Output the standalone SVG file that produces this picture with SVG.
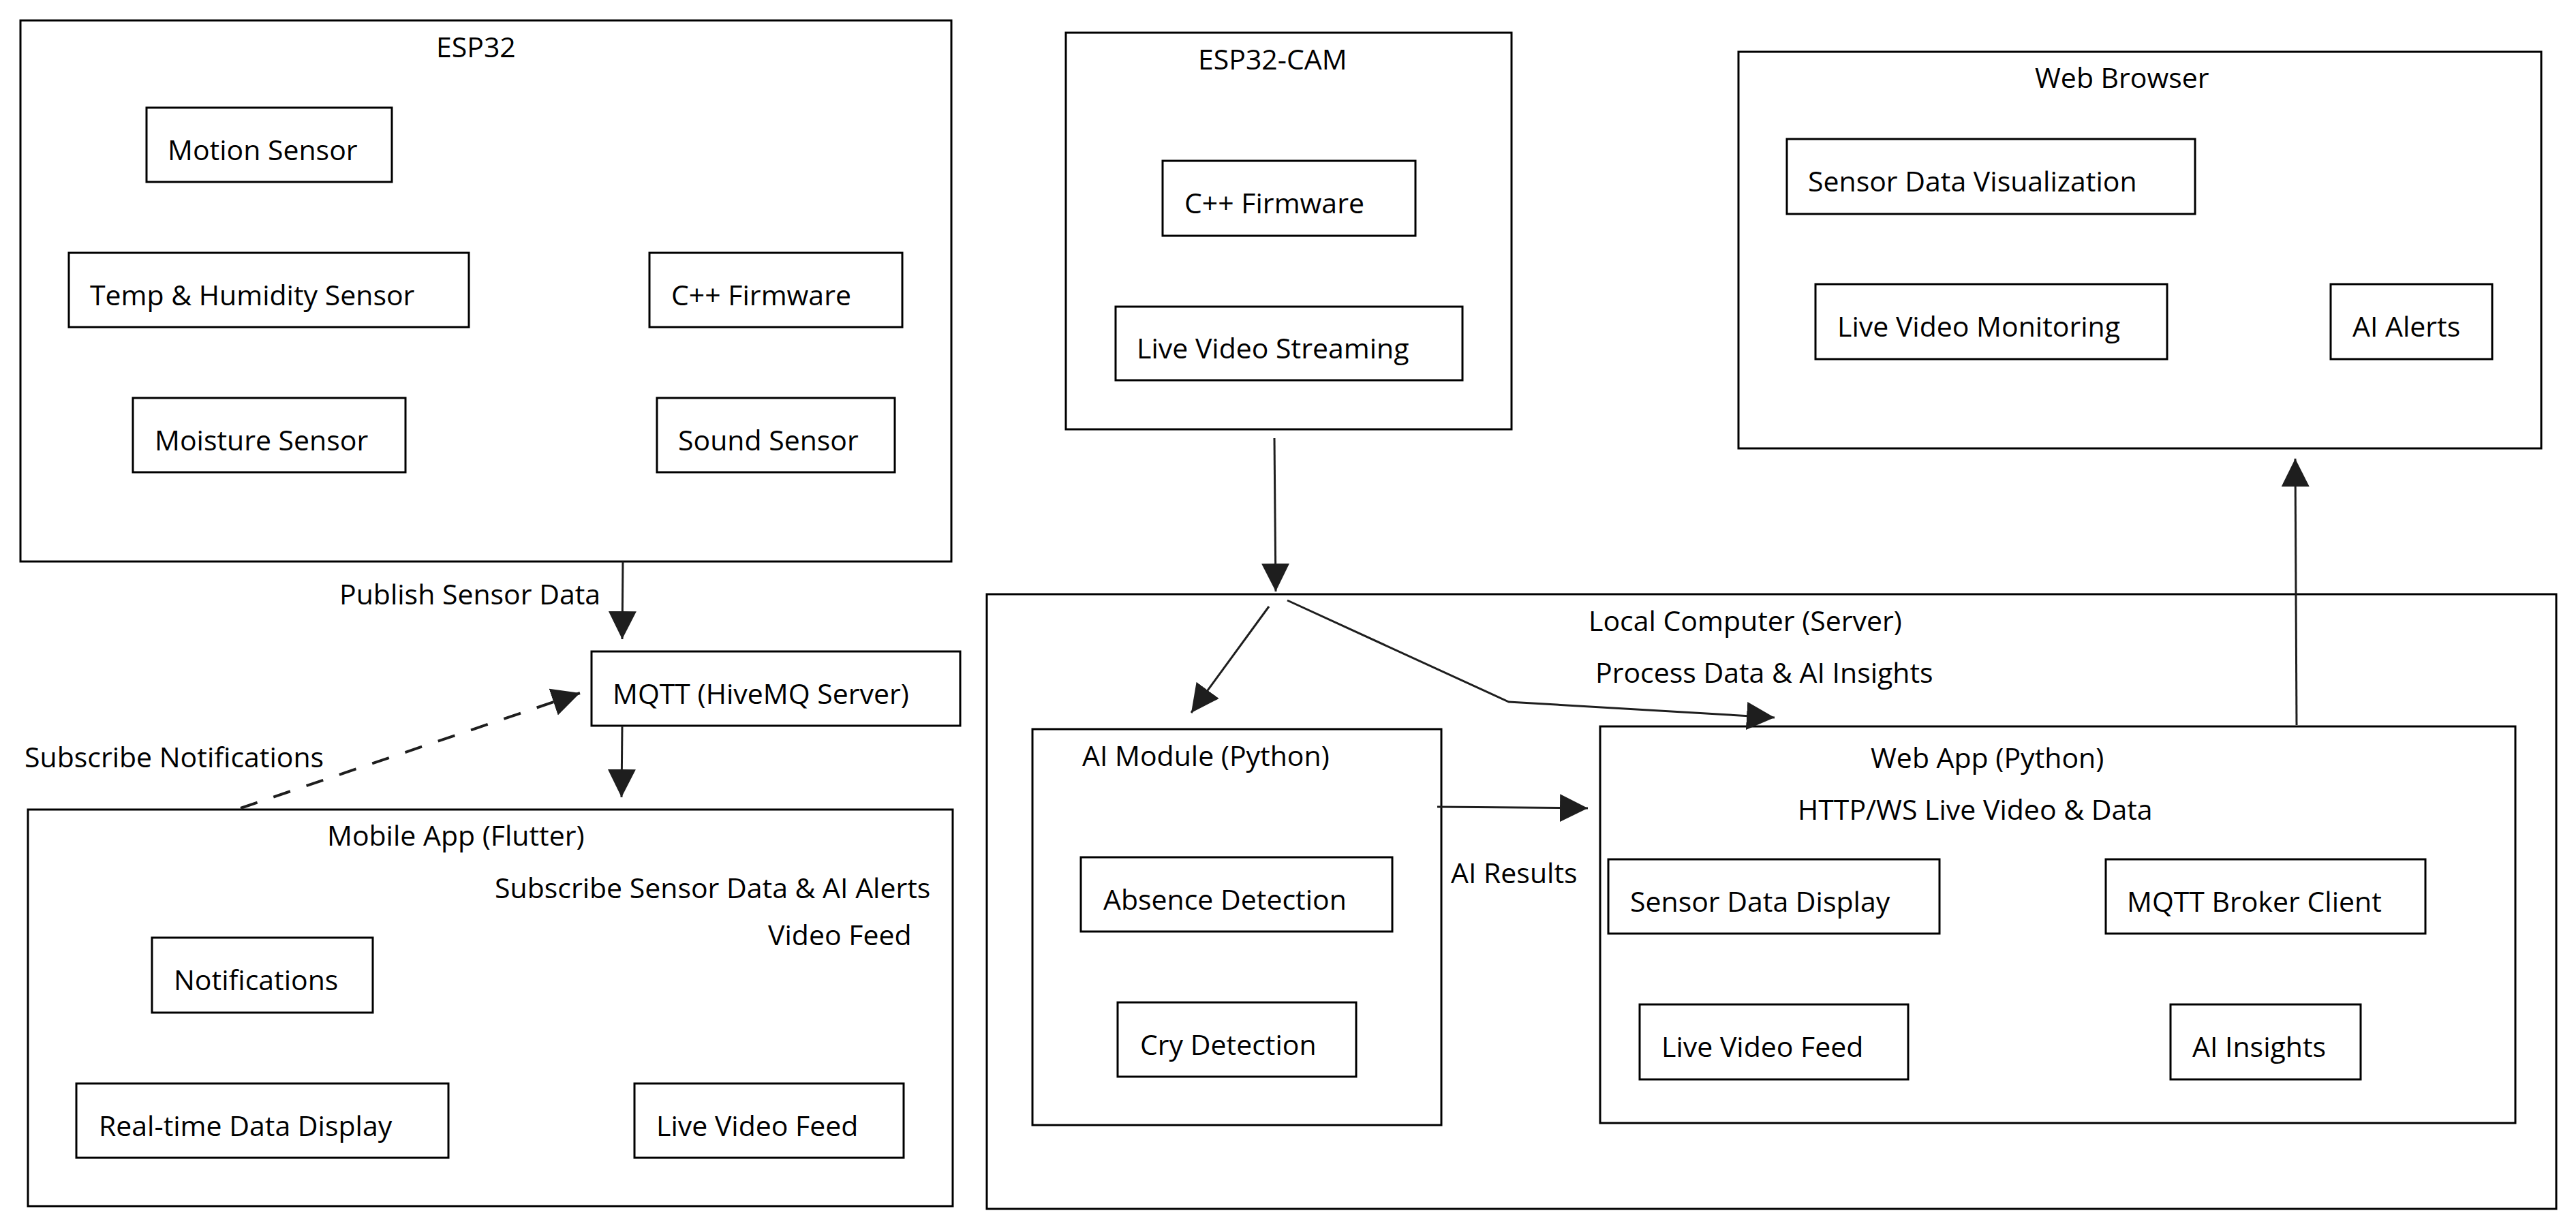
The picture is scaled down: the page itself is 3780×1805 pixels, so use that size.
<svg xmlns="http://www.w3.org/2000/svg" width="3780" height="1805" viewBox="0 0 3780 1805">
<style>
.box{fill:none;stroke:#000;stroke-width:3}
.t{font-family:"Open Sans","Noto Sans","Liberation Sans",sans-serif;font-size:41px;fill:#000}
.c{fill:none;stroke:#1e1e1e;stroke-width:3}
.d{fill:none;stroke:#1e1e1e;stroke-width:4;stroke-dasharray:26 25}
</style>
<defs>
<marker id="ah" markerUnits="userSpaceOnUse" markerWidth="42" markerHeight="42" refX="41" refY="20.5" orient="auto">
<path d="M0,0 L41,20.5 L0,41 z" fill="#1e1e1e"/>
</marker>
</defs>
<rect width="3780" height="1805" fill="#fff"/>

<g id="esp32">
<rect class="box" x="30" y="30" width="1366" height="794"/>
<text class="t" x="640" y="84">ESP32</text>
</g>
<g id="motion-sensor"><rect class="box" x="215" y="158" width="360" height="109"/><text class="t" x="246" y="235">Motion Sensor</text></g>
<g id="temp-humidity"><rect class="box" x="101" y="371" width="587" height="109"/><text class="t" x="132" y="448">Temp &amp; Humidity Sensor</text></g>
<g id="esp32-firmware"><rect class="box" x="953" y="371" width="371" height="109"/><text class="t" x="985" y="448">C++ Firmware</text></g>
<g id="moisture-sensor"><rect class="box" x="195" y="584" width="400" height="109"/><text class="t" x="227" y="661">Moisture Sensor</text></g>
<g id="sound-sensor"><rect class="box" x="964" y="584" width="349" height="109"/><text class="t" x="995" y="661">Sound Sensor</text></g>

<g id="esp32-cam">
<rect class="box" x="1564" y="48" width="654" height="582"/>
<text class="t" x="1758" y="102">ESP32-CAM</text>
</g>
<g id="cam-firmware"><rect class="box" x="1706" y="236" width="371" height="110"/><text class="t" x="1738" y="313">C++ Firmware</text></g>
<g id="live-video-streaming"><rect class="box" x="1637" y="450" width="509" height="108"/><text class="t" x="1668" y="526">Live Video Streaming</text></g>

<g id="web-browser">
<rect class="box" x="2551" y="76" width="1178" height="582"/>
<text class="t" x="2986" y="129">Web Browser</text>
</g>
<g id="sensor-data-visualization"><rect class="box" x="2622" y="204" width="599" height="110"/><text class="t" x="2653" y="281">Sensor Data Visualization</text></g>
<g id="live-video-monitoring"><rect class="box" x="2664" y="417" width="516" height="110"/><text class="t" x="2696" y="494">Live Video Monitoring</text></g>
<g id="ai-alerts"><rect class="box" x="3420" y="417" width="237" height="110"/><text class="t" x="3452" y="494">AI Alerts</text></g>

<g id="mqtt"><rect class="box" x="868" y="956" width="541" height="109"/><text class="t" x="899" y="1033">MQTT (HiveMQ Server)</text></g>

<g id="mobile-app">
<rect class="box" x="41" y="1188" width="1357" height="582"/>
<text class="t" x="480" y="1241">Mobile App (Flutter)</text>
</g>
<g id="notifications"><rect class="box" x="223" y="1376" width="324" height="110"/><text class="t" x="255" y="1453">Notifications</text></g>
<g id="realtime-data-display"><rect class="box" x="112" y="1590" width="546" height="109"/><text class="t" x="145" y="1667">Real-time Data Display</text></g>
<g id="mobile-live-video-feed"><rect class="box" x="931" y="1590" width="395" height="109"/><text class="t" x="963" y="1667">Live Video Feed</text></g>

<g id="local-computer">
<rect class="box" x="1448" y="872" width="2303" height="902"/>
<text class="t" x="2331" y="926">Local Computer (Server)</text>
</g>
<g id="ai-module">
<rect class="box" x="1515" y="1070" width="600" height="581"/>
<text class="t" x="1588" y="1124">AI Module (Python)</text>
</g>
<g id="absence-detection"><rect class="box" x="1586" y="1258" width="457" height="109"/><text class="t" x="1619" y="1335">Absence Detection</text></g>
<g id="cry-detection"><rect class="box" x="1640" y="1471" width="350" height="109"/><text class="t" x="1673" y="1548">Cry Detection</text></g>
<g id="web-app">
<rect class="box" x="2348" y="1066" width="1343" height="582"/>
<text class="t" x="2745" y="1127">Web App (Python)</text>
</g>
<g id="sensor-data-display"><rect class="box" x="2360" y="1261" width="486" height="109"/><text class="t" x="2392" y="1338">Sensor Data Display</text></g>
<g id="mqtt-broker-client"><rect class="box" x="3090" y="1261" width="469" height="109"/><text class="t" x="3121" y="1338">MQTT Broker Client</text></g>
<g id="web-live-video-feed"><rect class="box" x="2406" y="1474" width="394" height="110"/><text class="t" x="2438" y="1551">Live Video Feed</text></g>
<g id="ai-insights"><rect class="box" x="3185" y="1474" width="279" height="110"/><text class="t" x="3217" y="1551">AI Insights</text></g>

<g id="connectors">
<line class="c" x1="914" y1="824" x2="913" y2="938" marker-end="url(#ah)"/>
<line class="c" x1="913" y1="1065" x2="912" y2="1170" marker-end="url(#ah)"/>
<line class="d" x1="353" y1="1186" x2="851" y2="1017" marker-end="url(#ah)"/>
<line class="c" x1="1870" y1="643" x2="1872" y2="868" marker-end="url(#ah)"/>
<line class="c" x1="1862" y1="890" x2="1748" y2="1046" marker-end="url(#ah)"/>
<polyline class="c" points="1889,881 2214,1030 2604,1053" marker-end="url(#ah)"/>
<line class="c" x1="2109" y1="1184" x2="2330" y2="1186" marker-end="url(#ah)"/>
<line class="c" x1="3370" y1="1064" x2="3368" y2="673" marker-end="url(#ah)"/>
<text class="t" x="498" y="887">Publish Sensor Data</text>
<text class="t" x="36" y="1126">Subscribe Notifications</text>
<text class="t" x="726" y="1318">Subscribe Sensor Data &amp; AI Alerts</text>
<text class="t" x="1127" y="1387">Video Feed</text>
<text class="t" x="2341" y="1002">Process Data &amp; AI Insights</text>
<text class="t" x="2638" y="1203">HTTP/WS Live Video &amp; Data</text>
<text class="t" x="2129" y="1296">AI Results</text>
</g>
</svg>
